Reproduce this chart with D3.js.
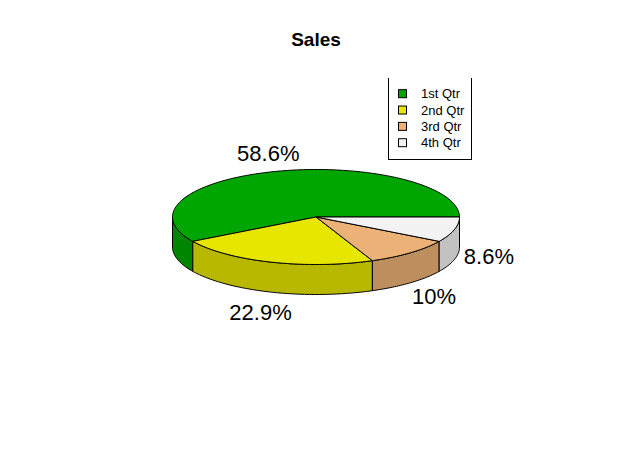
<!DOCTYPE html>
<html>
	<head>
		<meta charset="utf-8">
		<title>Sales</title>
		<style>
			body { margin: 0; background: #fff; }
			svg text { font-family: "Liberation Sans", Arial, sans-serif; fill: #000; }
		</style>
		<script src="https://d3js.org/d3.v7.min.js" charset="utf-8"></script>
	</head>
	<body>
		<svg id="chart" width="632" height="464"></svg>
		<script>
		// data
		var categories = ["1st Qtr", "2nd Qtr", "3rd Qtr", "4th Qtr"];
		var sales = [8.2, 3.2, 1.4, 1.2];
		var colours = ["#00A600", "#E6E600", "#ECB176", "#F2F2F2"];

		var width = 632, height = 464;
		var cx = 316, cy = 217, rx = 143.5, ry = 47.5, depth = 30;

		var svg = d3.select("#chart");
		svg.append("rect").attr("width", width).attr("height", height).attr("fill", "#fff");

		// unit circle -> screen ellipse
		var sx = d3.scaleLinear().domain([-1, 1]).range([cx - rx, cx + rx]);
		var sy = d3.scaleLinear().domain([-1, 1]).range([cy + ry, cy - ry]);

		var total = d3.sum(sales);
		var arcs = d3.pie().sort(null).startAngle(0).endAngle(2 * Math.PI)(sales);

		function pt(t, dy) {
			return [sx(Math.cos(t)), sy(Math.sin(t)) + (dy || 0)];
		}
		function samples(a0, a1) {
			var n = Math.max(2, Math.ceil(Math.abs(a1 - a0) / (Math.PI / 180)));
			return d3.range(n + 1).map(function(i){ return a0 + (a1 - a0) * i / n; });
		}
		function shade(c) {
			var r = d3.rgb(c);
			return d3.rgb(r.r * 0.8, r.g * 0.8, r.b * 0.8).formatHex();
		}
		var line = d3.line();

		// side walls (front half only)
		arcs.forEach(function(d, i){
			var w0 = Math.max(d.startAngle, Math.PI), w1 = Math.min(d.endAngle, 2 * Math.PI);
			if (w0 >= w1) return;
			var top = samples(w0, w1).map(function(t){ return pt(t); });
			var bot = samples(w1, w0).map(function(t){ return pt(t, depth); });
			svg.append("path")
				.attr("d", line(top.concat(bot)) + "Z")
				.attr("fill", shade(colours[i]))
				.attr("stroke", "#000").attr("stroke-width", 1);
		});

		// top faces
		arcs.forEach(function(d, i){
			var p = [[cx, cy]].concat(samples(d.startAngle, d.endAngle).map(function(t){ return pt(t); }));
			svg.append("path")
				.attr("d", line(p) + "Z")
				.attr("fill", colours[i])
				.attr("stroke", "#000").attr("stroke-width", 1)
				.attr("stroke-linejoin", "round");
		});

		// percentage labels
		arcs.forEach(function(d){
			var m = (d.startAngle + d.endAngle) / 2;
			var s = Math.sin(m);
			var x = cx + 1.25 * rx * Math.cos(m);
			var y = s >= 0 ? cy - 1.4 * ry * s : cy - 1.72 * ry * s + 17;
			svg.append("text")
				.attr("x", x).attr("y", y + 8)
				.attr("text-anchor", "middle")
				.style("font-size", "22px")
				.text(Math.round(d.value / total * 1000) / 10 + "%");
		});

		// title
		svg.append("text")
			.attr("x", cx).attr("y", 46)
			.attr("text-anchor", "middle")
			.style("font-size", "19px").style("font-weight", "bold")
			.text("Sales");

		// legend (top border clipped by plot region)
		svg.append("clipPath").attr("id", "legclip")
			.append("rect").attr("x", 0).attr("y", 78).attr("width", width).attr("height", height);
		svg.append("rect")
			.attr("x", 388.5).attr("y", 62.5).attr("width", 83).attr("height", 97)
			.attr("fill", "none").attr("stroke", "#000").attr("stroke-width", 1)
			.attr("clip-path", "url(#legclip)");

		var row = d3.scalePoint().domain(categories).range([93.7, 142.7]);
		var leg = svg.selectAll("g.leg").data(categories).enter().append("g").attr("class", "leg");
		leg.append("rect")
			.attr("x", 398.5).attr("y", function(d){ return row(d) - 4; })
			.attr("width", 8).attr("height", 8)
			.attr("fill", function(d, i){ return colours[i]; })
			.attr("stroke", "#000").attr("stroke-width", 1);
		leg.append("text")
			.attr("x", 421).attr("y", function(d){ return row(d) + 4.5; })
			.style("font-size", "13px")
			.text(function(d){ return d; });
		</script>
	</body>
</html>
